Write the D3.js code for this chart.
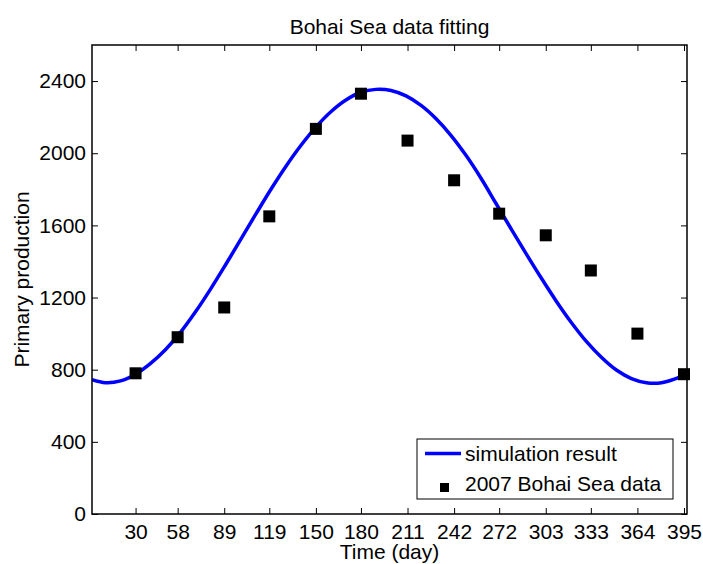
<!DOCTYPE html>
<html>
<head>
<meta charset="utf-8">
<script src="https://cdnjs.cloudflare.com/ajax/libs/d3/7.8.5/d3.min.js"></script>
<style>
body { margin: 0; background: #fff; }
text { font-family: "Liberation Sans", Arial, sans-serif; fill: #000; }
</style>
</head>
<body>
<div id="chart"></div>
<script>
var width = 703,
height = 564,
plot_left = 92, plot_right = 687, plot_top = 45, plot_bottom = 514,
font_size = "21px";

// observed data
var days = [30, 58, 89, 119, 150, 180, 211, 242, 272, 303, 333, 364, 395];
var observed = [780, 980, 1145, 1650, 2135, 2330, 2070, 1850, 1665, 1545, 1350, 1000, 775];

// simulation curve
var simDays = [1, 10, 20, 30, 40, 50, 60, 70, 80, 90, 100, 110, 120, 130, 140, 150, 160, 170, 180, 190, 200,
	210, 220, 230, 240, 250, 260, 270, 280, 290, 300, 310, 320, 330, 340, 350, 360, 370, 380, 390, 397];
var simValues = [745, 728, 738, 775, 835, 912, 1008, 1122, 1248, 1383, 1522, 1662, 1799, 1927, 2043, 2145, 2230, 2295, 2338, 2354, 2348,
	2318, 2265, 2191, 2098, 1987, 1860, 1720, 1580, 1442, 1308, 1180, 1062, 957, 869, 798, 751, 728, 728, 752, 775];

var yTicks = [0, 400, 800, 1200, 1600, 2000, 2400];

var svg = d3.select("#chart")
.append("svg")
.attr("width", width)
.attr("height", height);

var xScale = d3.scaleLinear()
.domain([1, 397])
.range([plot_left, plot_right]);

var yScale = d3.scaleLinear()
.domain([0, 2600])
.range([plot_bottom, plot_top]);

svg.append("clipPath")
.attr("id", "plot-clip")
.append("rect")
.attr("x", plot_left)
.attr("y", plot_top)
.attr("width", plot_right - plot_left)
.attr("height", plot_bottom - plot_top);

// simulation line
var line = d3.line()
.x(function(d, i) { return xScale(simDays[i]); })
.y(function(d) { return yScale(d); })
.curve(d3.curveCatmullRom);

svg.append("path")
.datum(simValues)
.attr("d", line)
.attr("fill", "none")
.attr("stroke", "#0000ff")
.attr("stroke-width", 3.5)
.attr("clip-path", "url(#plot-clip)");

// data squares
svg.selectAll(".obs")
.data(observed)
.enter()
.append("rect")
.attr("class", "obs")
.attr("x", function(d, i) { return xScale(days[i]) - 6; })
.attr("y", function(d) { return yScale(d) - 6; })
.attr("width", 12)
.attr("height", 12)
.attr("fill", "#000");

// axes, ticks inward on all four sides
var tickLen = 6;
svg.append("g")
.attr("transform", "translate(0," + plot_bottom + ")")
.call(d3.axisBottom(xScale).tickValues(days).tickSizeInner(-tickLen).tickSizeOuter(0).tickPadding(10));
svg.append("g")
.attr("transform", "translate(0," + plot_top + ")")
.call(d3.axisTop(xScale).tickValues(days).tickSizeInner(-tickLen).tickSizeOuter(0).tickFormat(""));
svg.append("g")
.attr("transform", "translate(" + plot_left + ",0)")
.call(d3.axisLeft(yScale).tickValues(yTicks).tickSizeInner(-tickLen).tickSizeOuter(0).tickPadding(6).tickFormat(d3.format("d")));
svg.append("g")
.attr("transform", "translate(" + plot_right + ",0)")
.call(d3.axisRight(yScale).tickValues(yTicks).tickSizeInner(-tickLen).tickSizeOuter(0).tickFormat(""));

svg.selectAll(".domain").remove();
svg.selectAll(".tick line").attr("stroke", "#000").attr("stroke-width", 1);
svg.selectAll(".tick text")
.style("font-size", font_size)
.style("font-family", "'Liberation Sans', Arial, sans-serif");

svg.append("rect")
.attr("x", plot_left)
.attr("y", plot_top)
.attr("width", plot_right - plot_left)
.attr("height", plot_bottom - plot_top)
.attr("fill", "none")
.attr("stroke", "#000")
.attr("stroke-width", 1.5);

// titles
svg.append("text")
.text("Bohai Sea data fitting")
.attr("x", (plot_left + plot_right) / 2)
.attr("y", 34)
.attr("text-anchor", "middle")
.style("font-size", font_size);

svg.append("text")
.text("Time (day)")
.attr("x", (plot_left + plot_right) / 2)
.attr("y", 559)
.attr("text-anchor", "middle")
.style("font-size", font_size);

svg.append("text")
.text("Primary production")
.attr("transform", "translate(29," + ((plot_top + plot_bottom) / 2) + ") rotate(-90)")
.attr("text-anchor", "middle")
.style("font-size", font_size);

// legend
var legend = svg.append("g");
legend.append("rect")
.attr("x", 417)
.attr("y", 439)
.attr("width", 256)
.attr("height", 60)
.attr("fill", "#fff")
.attr("stroke", "#000")
.attr("stroke-width", 1);
legend.append("line")
.attr("x1", 425).attr("x2", 461)
.attr("y1", 453.5).attr("y2", 453.5)
.attr("stroke", "#0000ff")
.attr("stroke-width", 3.5);
legend.append("text")
.text("simulation result")
.attr("x", 465)
.attr("y", 461)
.style("font-size", font_size);
legend.append("rect")
.attr("x", 440)
.attr("y", 483)
.attr("width", 9)
.attr("height", 9)
.attr("fill", "#000");
legend.append("text")
.text("2007 Bohai Sea data")
.attr("x", 465)
.attr("y", 491)
.style("font-size", font_size);
</script>
</body>
</html>
